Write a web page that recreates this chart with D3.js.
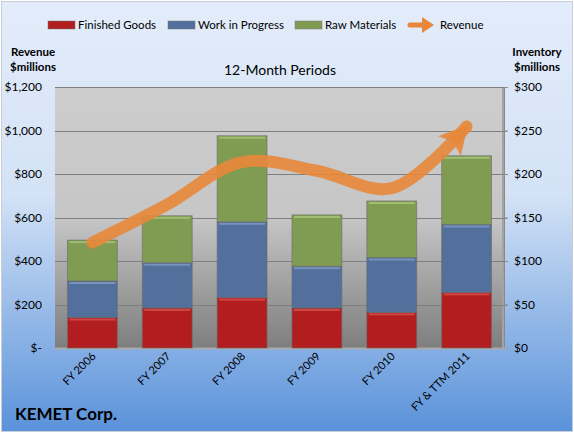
<!DOCTYPE html>
<html lang="en">
<head>
    <meta charset="UTF-8">
    <title>KEMET Corp.</title>
    <script src="https://cdn.jsdelivr.net/npm/d3@7"></script>
    <style>
        body { margin: 0; background: #fff; }
        svg text { font-family: Lato, "Open Sans", sans-serif; fill: #000; }
    </style>
</head>
<body>
    <div id="chart"></div>
    <script>
        // data
        var periods = ["FY 2006", "FY 2007", "FY 2008", "FY 2009", "FY 2010", "FY & TTM 2011"];
        var finishedGoods = [35, 46, 58, 46, 41, 64];
        var workInProgress = [42, 52, 87, 48, 63, 78];
        var rawMaterials = [47, 54, 99, 59, 65, 79];
        var revenue = [485, 660, 855, 815, 735, 1018];
        var revenueTicks = [0, 200, 400, 600, 800, 1000, 1200];
        var inventoryTicks = [0, 50, 100, 150, 200, 250, 300];

        var W = 574, H = 433;
        var plot = { left: 55, right: 504, top: 87, bottom: 348 };

        var svg = d3.select("#chart").append("svg")
            .attr("width", W)
            .attr("height", H);

        var defs = svg.append("defs");

        var bg = defs.append("linearGradient").attr("id", "bgGrad")
            .attr("x1", 0).attr("y1", 0).attr("x2", 0).attr("y2", 1);
        bg.append("stop").attr("offset", "0%").attr("stop-color", "#e3ecfa");
        bg.append("stop").attr("offset", "45%").attr("stop-color", "#d3e2f6");
        bg.append("stop").attr("offset", "100%").attr("stop-color", "#5a92da");

        var pg = defs.append("linearGradient").attr("id", "plotGrad")
            .attr("x1", 0).attr("y1", 0).attr("x2", 0).attr("y2", 1);
        pg.append("stop").attr("offset", "0%").attr("stop-color", "#cdcdcd");
        pg.append("stop").attr("offset", "50%").attr("stop-color", "#c6c6c6");
        pg.append("stop").attr("offset", "100%").attr("stop-color", "#7e7e7e");

        // arrow head for revenue line
        defs.append("marker")
            .attr("id", "arrow")
            .attr("markerUnits", "userSpaceOnUse")
            .attr("viewBox", "0 0 32 32")
            .attr("refX", 28).attr("refY", 16)
            .attr("markerWidth", 32).attr("markerHeight", 32)
            .attr("orient", "auto")
            .append("path")
            .attr("d", "M2,1 L30,16 L2,31 L8,16 Z")
            .attr("fill", "#e8873a")
            .attr("fill-opacity", 0.9);

        // chart background
        svg.append("rect")
            .attr("x", 1.5).attr("y", 1.5)
            .attr("width", W - 3).attr("height", H - 3)
            .attr("fill", "url(#bgGrad)")
            .attr("stroke", "#c9cfd8");

        var x = d3.scaleBand()
            .domain(periods)
            .range([plot.left, plot.right])
            .paddingInner(1 / 3)
            .paddingOuter(1 / 6);

        var yRev = d3.scaleLinear().domain([0, 1200]).range([plot.bottom, plot.top]);
        var yInv = d3.scaleLinear().domain([0, 300]).range([plot.bottom, plot.top]);

        // plot area
        svg.append("rect")
            .attr("x", plot.left).attr("y", plot.top)
            .attr("width", plot.right - plot.left).attr("height", plot.bottom - plot.top)
            .attr("fill", "url(#plotGrad)");

        svg.append("line")
            .attr("x1", plot.right - 1).attr("x2", plot.right - 1)
            .attr("y1", plot.top).attr("y2", plot.bottom)
            .attr("stroke", "#a3a3a3").attr("stroke-width", 2);

        // gridlines
        svg.append("g")
            .selectAll("line")
            .data(revenueTicks.slice(1))
            .enter()
            .append("line")
            .attr("x1", plot.left).attr("x2", plot.right + 3)
            .attr("y1", d => Math.round(yRev(d)) + 0.5)
            .attr("y2", d => Math.round(yRev(d)) + 0.5)
            .attr("stroke", "#7f7f7f");

        // left axis labels
        svg.append("g")
            .selectAll("text")
            .data(revenueTicks)
            .enter()
            .append("text")
            .attr("x", 42)
            .attr("y", d => yRev(d) + 4)
            .attr("text-anchor", "end")
            .style("font-size", "12px")
            .text(d => d === 0 ? "$-" : "$" + d3.format(",")(d));

        // right axis
        var axisR = svg.append("g")
            .attr("transform", `translate(${plot.right},0)`)
            .call(d3.axisRight(yInv).tickValues(inventoryTicks).tickSize(4).tickPadding(6)
                .tickFormat(d => "$" + d));
        axisR.select(".domain").attr("stroke", "#8a8a8a");
        axisR.selectAll(".tick line").attr("stroke", "#8a8a8a");
        axisR.selectAll("text")
            .attr("font-family", "Lato, sans-serif")
            .attr("font-size", "12px")
            .attr("fill", "#000");

        // floor
        svg.append("line")
            .attr("x1", plot.left).attr("x2", plot.right + 3)
            .attr("y1", plot.bottom + 0.5).attr("y2", plot.bottom + 0.5)
            .attr("stroke", "#a9a9a9").attr("stroke-width", 2);

        // stacked bars
        var keys = ["fg", "wip", "rm"];
        var colors = { fg: "#b21e1f", wip: "#52709b", rm: "#809b52" };
        var tops = { fg: "#d4504f", wip: "#7f9cc4", rm: "#a9c87a" };
        var rows = periods.map((p, i) => ({ period: p, fg: finishedGoods[i], wip: workInProgress[i], rm: rawMaterials[i] }));
        var stack = d3.stack().keys(keys)(rows);

        var layers = svg.append("g")
            .selectAll("g")
            .data(stack)
            .enter()
            .append("g");

        layers.selectAll("rect.seg")
            .data(d => d.map(v => ({ key: d.key, v: v })))
            .enter()
            .append("rect")
            .attr("class", "seg")
            .attr("x", d => x(d.v.data.period))
            .attr("y", d => yInv(d.v[1]))
            .attr("width", x.bandwidth())
            .attr("height", d => yInv(d.v[0]) - yInv(d.v[1]))
            .attr("fill", d => colors[d.key])
            .attr("stroke", "#6b6b6b")
            .attr("stroke-opacity", 0.6)
            .attr("stroke-width", 1);

        // bevel highlight at top of each segment
        layers.selectAll("rect.hi")
            .data(d => d.map(v => ({ key: d.key, v: v })))
            .enter()
            .append("rect")
            .attr("class", "hi")
            .attr("x", d => x(d.v.data.period) + 2)
            .attr("y", d => yInv(d.v[1]) + 1)
            .attr("width", x.bandwidth() - 4)
            .attr("height", 2)
            .attr("fill", d => tops[d.key])
            .attr("fill-opacity", 0.8);

        // revenue line
        var line = d3.line()
            .x((d, i) => x(periods[i]) + x.bandwidth() / 2)
            .y(d => yRev(d))
            .curve(d3.curveCatmullRom.alpha(0.5));

        svg.append("path")
            .datum(revenue)
            .attr("d", line)
            .attr("fill", "none")
            .attr("stroke", "#e8873a")
            .attr("stroke-opacity", 0.9)
            .attr("stroke-width", 12)
            .attr("stroke-linecap", "round")
            .attr("marker-end", "url(#arrow)");

        // x labels
        svg.append("g")
            .selectAll("text")
            .data(periods)
            .enter()
            .append("text")
            .attr("transform", d => `translate(${x(d) + x.bandwidth() / 2 + 4},${plot.bottom + 9}) rotate(-45)`)
            .attr("text-anchor", "end")
            .style("font-size", "11px")
            .text(d => d);

        // legend
        var legend = [
            { label: "Finished Goods", color: colors.fg, x: 48 },
            { label: "Work in Progress", color: colors.wip, x: 168 },
            { label: "Raw Materials", color: colors.rm, x: 295 }
        ];
        var lg = svg.append("g");
        lg.selectAll("rect")
            .data(legend)
            .enter()
            .append("rect")
            .attr("x", d => d.x).attr("y", 21)
            .attr("width", 27).attr("height", 8)
            .attr("fill", d => d.color)
            .attr("stroke", "#7a7a7a").attr("stroke-opacity", 0.5);
        lg.selectAll("text")
            .data(legend)
            .enter()
            .append("text")
            .attr("x", d => d.x + 30).attr("y", 29)
            .style("font-size", "11.5px")
            .text(d => d.label);

        lg.append("line")
            .attr("x1", 410).attr("x2", 426)
            .attr("y1", 25).attr("y2", 25)
            .attr("stroke", "#e8873a")
            .attr("stroke-width", 5)
            .attr("stroke-linecap", "round");
        lg.append("path")
            .attr("d", "M422,17 L434,25 L422,33 Z")
            .attr("fill", "#e8873a");
        lg.append("text")
            .attr("x", 440).attr("y", 29)
            .style("font-size", "11.5px")
            .text("Revenue");

        // axis titles
        svg.append("text").attr("x", 33).attr("y", 56).attr("text-anchor", "middle")
            .style("font-size", "11.5px").style("font-weight", "bold").text("Revenue");
        svg.append("text").attr("x", 33).attr("y", 71).attr("text-anchor", "middle")
            .style("font-size", "11.5px").style("font-weight", "bold").text("$millions");
        svg.append("text").attr("x", 537).attr("y", 56).attr("text-anchor", "middle")
            .style("font-size", "11.5px").style("font-weight", "bold").text("Inventory");
        svg.append("text").attr("x", 537).attr("y", 71).attr("text-anchor", "middle")
            .style("font-size", "11.5px").style("font-weight", "bold").text("$millions");

        svg.append("text")
            .attr("x", 280).attr("y", 75)
            .attr("text-anchor", "middle")
            .style("font-size", "14px")
            .text("12-Month Periods");

        svg.append("text")
            .attr("x", 15).attr("y", 420)
            .style("font-size", "17px")
            .style("font-weight", "bold")
            .text("KEMET Corp.");
    </script>
</body>
</html>
